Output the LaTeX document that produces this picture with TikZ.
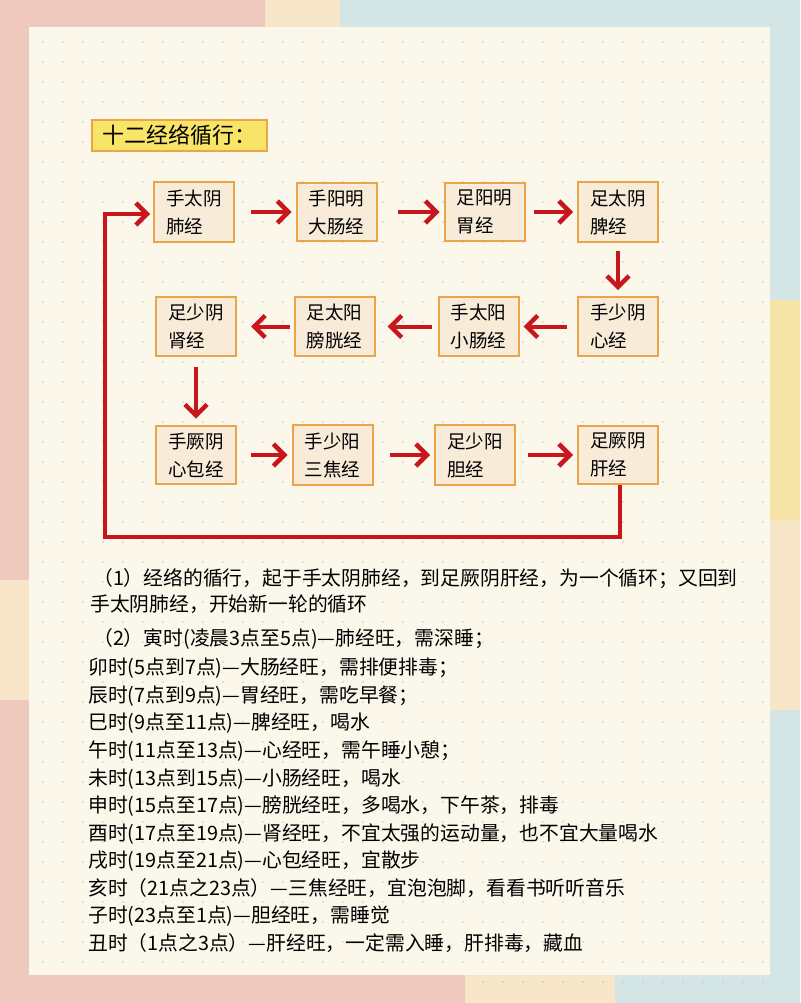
\documentclass[tikz,border=0pt]{standalone}
\usepackage{fontspec}
\setmainfont{Noto Sans CJK SC}
\usetikzlibrary{arrows.meta}
\definecolor{pinkbg}{HTML}{EFC9BD}
\definecolor{beigebg}{HTML}{F7E6C8}
\definecolor{bluebg}{HTML}{D3E5E4}
\definecolor{yelbg}{HTML}{F6E3A8}
\definecolor{paper}{HTML}{FBF7EA}
\definecolor{boxfill}{HTML}{F8EBD8}
\definecolor{boxline}{HTML}{EBA44B}
\definecolor{titfill}{HTML}{F8E466}
\definecolor{arr}{HTML}{C8161D}
\begin{document}
\begin{tikzpicture}[x=1pt,y=-1pt,
  box/.style={draw=boxline,line width=2pt,fill=boxfill,minimum width=80pt,minimum height=58pt,align=left,font=\fontsize{18.5}{28}\selectfont,inner sep=7pt},
  ar/.style={draw=arr,line width=4pt,-{Straight Barb[length=11pt,width=22pt,line width=4.5pt]}},
  txt/.style={anchor=base west,font=\fontsize{19.8}{20}\selectfont,inner sep=0pt}]
\useasboundingbox (0,0) rectangle (800,1003);
% background
\fill[pinkbg] (0,0) rectangle (800,1003);
\fill[beigebg] (265,0) rectangle (340,27);
\fill[bluebg] (340,0) rectangle (800,27);
\fill[bluebg] (770,0) rectangle (800,300);
\fill[yelbg] (770,300) rectangle (800,520);
\fill[beigebg] (770,520) rectangle (800,710);
\fill[bluebg] (770,710) rectangle (800,1003);
\fill[beigebg] (0,580) rectangle (29,700);
\fill[beigebg] (465,975) rectangle (615,1003);
\fill[bluebg] (615,975) rectangle (800,1003);
\fill[paper] (29,27) rectangle (770,975);
\foreach \i in {0,...,36} \foreach \j in {0,...,47}
  \fill[gray!45] (43+\i*20,42+\j*20) circle (0.9pt);
% title
\node[draw=boxline,line width=2.5pt,fill=titfill,inner sep=3pt,font=\fontsize{22}{24}\selectfont,minimum width=175pt,minimum height=31pt] (title) at (179.5,135.5) {十二经络循行：};
% boxes
\node[box] (b1) at (194,212) {手太阴\\肺经};
\node[box] (b2) at (336.5,212) {手阳明\\大肠经};
\node[box] (b3) at (484.5,212) {足阳明\\胃经};
\node[box] (b4) at (618,212) {足太阴\\脾经};
\node[box] (b5) at (618,326.5) {手少阴\\心经};
\node[box] (b6) at (478.5,326.5) {手太阳\\小肠经};
\node[box] (b7) at (334.5,326.5) {足太阳\\膀胱经};
\node[box] (b8) at (196,326.5) {足少阴\\肾经};
\node[box] (b9) at (196,455) {手厥阴\\心包经};
\node[box] (b10) at (332.5,455) {手少阳\\三焦经};
\node[box] (b11) at (475,455) {足少阳\\胆经};
\node[box] (b12) at (618,455) {足厥阴\\肝经};
% arrows
\draw[ar] ([xshift=16pt]b1.east) -- ([xshift=-4pt]b2.west);
\draw[ar] ([xshift=20pt]b2.east) -- ([xshift=-4pt]b3.west);
\draw[ar] ([xshift=8pt]b3.east) -- ([xshift=-4pt]b4.west);
\draw[ar] ([yshift=-8pt]b4.south) -- ([yshift=6pt]b5.north);
\draw[ar] ([xshift=-10pt]b5.west) -- ([xshift=4pt]b6.east);
\draw[ar] ([xshift=-6pt]b6.west) -- ([xshift=12pt]b7.east);
\draw[ar] ([xshift=-4pt]b7.west) -- ([xshift=14pt]b8.east);
\draw[ar] ([yshift=-10pt]b8.south) -- ([yshift=6pt]b9.north);
\draw[ar] ([xshift=14pt]b9.east) -- ([xshift=-4pt]b10.west);
\draw[ar] ([xshift=16pt]b10.east) -- ([xshift=-4pt]b11.west);
\draw[ar] ([xshift=12pt]b11.east) -- ([xshift=-4pt]b12.west);
\coordinate (c1) at (620,537);
\coordinate (c2) at (105,537);
\coordinate (c3) at (105,214);
\coordinate (c4) at (150,214);
\draw[ar] ([xshift=2pt]b12.south) -- (c1) -- (c2) -- (c3) -- (c4);
% text
\node[txt] (t1) at (93,585) {（1）经络的循行，起于手太阴肺经，到足厥阴肝经，为一个循环；又回到};
\node[txt] (t2) at (90,611) {手太阴肺经，开始新一轮的循环};
\node[txt] (t3) at (93,645) {（2）寅时(凌晨3点至5点)—肺经旺，需深睡；};
\node[txt] (t4) at (88,674) {卯时(5点到7点)—大肠经旺，需排便排毒；};
\node[txt] (t5) at (88,702) {辰时(7点到9点)—胃经旺，需吃早餐；};
\node[txt] (t6) at (88,729) {巳时(9点至11点)—脾经旺，喝水};
\node[txt] (t7) at (88,757) {午时(11点至13点)—心经旺，需午睡小憩；};
\node[txt] (t8) at (88,785) {未时(13点到15点)—小肠经旺，喝水};
\node[txt] (t9) at (88,812) {申时(15点至17点)—膀胱经旺，多喝水，下午茶，排毒};
\node[txt] (t10) at (88,840) {酉时(17点至19点)—肾经旺，不宜太强的运动量，也不宜大量喝水};
\node[txt] (t11) at (88,867) {戌时(19点至21点)—心包经旺，宜散步};
\node[txt] (t12) at (88,895) {亥时（21点之23点）—三焦经旺，宜泡泡脚，看看书听听音乐};
\node[txt] (t13) at (88,922) {子时(23点至1点)—胆经旺，需睡觉};
\node[txt] (t14) at (88,950) {丑时（1点之3点）—肝经旺，一定需入睡，肝排毒，藏血};
\end{tikzpicture}
\end{document}
